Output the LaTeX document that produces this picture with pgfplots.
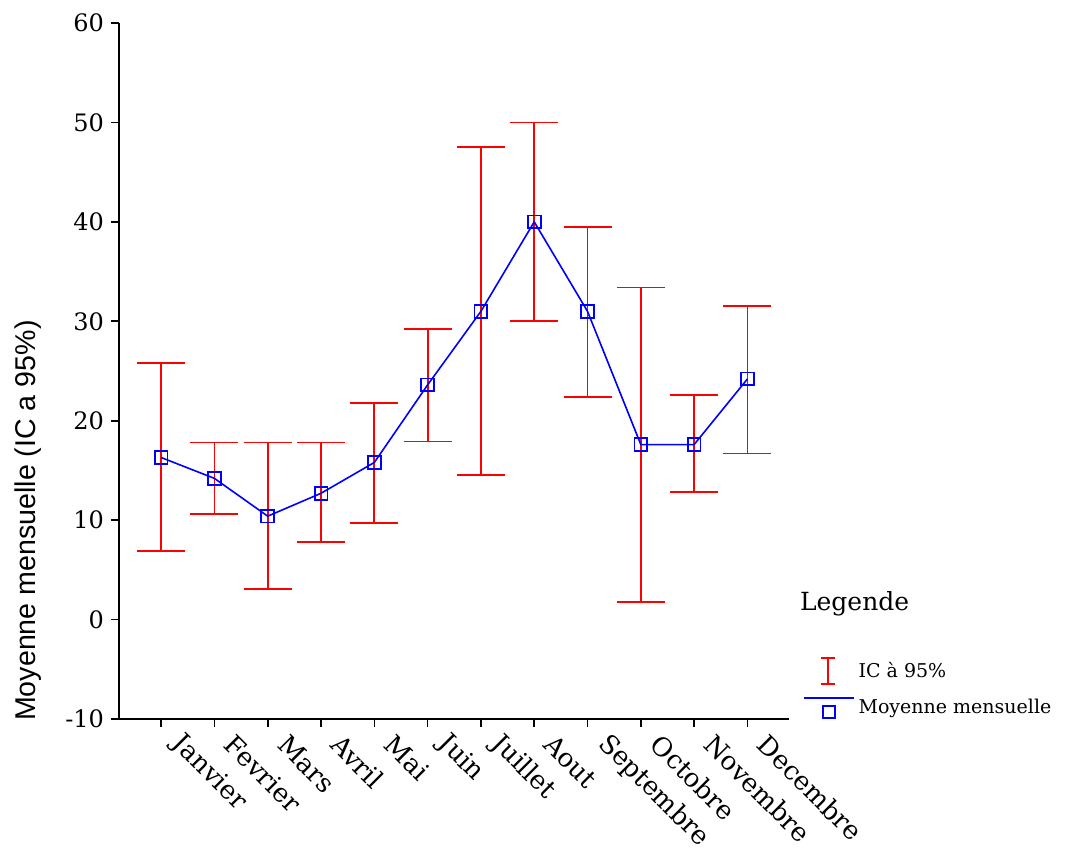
\documentclass[border=0pt]{standalone}
\usepackage{fontspec}
\setmainfont{DejaVu Serif}
\newfontfamily\labelfont{Liberation Sans}
\usepackage{pgfplots}
\usepackage{pgfplotstable}
\pgfplotsset{compat=1.18}

% monthly mean with 95% CI bounds
\pgfplotstableread{
x  mean  lo    hi
1  16.3  6.9   25.8
2  14.2  10.6  17.8
3  10.4  3.1   17.8
4  12.7  7.8   17.8
5  15.8  9.7   21.8
6  23.6  17.9  29.2
7  31.0  14.5  47.5
8  40.0  30.0  50.0
9  31.0  22.4  39.5
10 17.6  1.8   33.4
11 17.6  12.8  22.6
12 24.2  16.7  31.5
}\data

\begin{document}
\begin{tikzpicture}
\begin{axis}[
    scale only axis,
    width=335pt, height=348pt,
    xmin=0.21, xmax=12.78,
    ymin=-10, ymax=60,
    axis x line=bottom, axis y line=left,
    axis line style={-, line width=0.9pt},
    tick style={black, line width=0.8pt},
    tick align=outside,
    major tick length=4pt,
    xtick={1,...,12},
    xticklabels={Janvier,Fevrier,Mars,Avril,Mai,Juin,Juillet,Aout,Septembre,Octobre,Novembre,Decembre},
    xticklabel style={rotate=-45, anchor=west, inner sep=0pt, xshift=9.7pt, yshift=0.7pt,
        font=\fontsize{13}{15}\selectfont},
    ytick={-10,0,...,60},
    yticklabel style={font=\fontsize{12}{14}\selectfont},
    /pgf/number format/assume math mode=true,
    ylabel={\labelfont Moyenne mensuelle (IC a 95\%)},
    ylabel style={at={(ticklabel cs:0)}, anchor=south west,
        font=\fontsize{14.3}{16}\selectfont, yshift=5pt, xshift=-4.5pt},
    clip=false,
    legend style={at={(rel axis cs:1.011,0.095)}, anchor=north west, draw=none,
        font=\fontsize{9.5}{11}\selectfont, row sep=5pt, fill=none},
    legend cell align=left,
]
% CI: vertical lines from lo to hi, then caps
\addplot[draw=red, line width=0.9pt, -,
    quiver={u=0, v=\thisrow{hi}-\thisrow{lo}},
    legend image code/.code={
        \draw[draw=red, line width=0.9pt] (12pt,-6.5pt)--(12pt,6.5pt)
            (8.5pt,-6.5pt)--(15.5pt,-6.5pt) (8.5pt,6.5pt)--(15.5pt,6.5pt);}]
    table[x=x, y=lo] {\data};
\addlegendentry{IC à 95\%}
\addplot[draw=red, line width=0.9pt, -, forget plot, quiver={u=0.9, v=0}]
    table[x expr=\thisrow{x}-0.45, y=hi] {\data};
\addplot[draw=red, line width=0.9pt, -, forget plot, quiver={u=0.9, v=0}]
    table[x expr=\thisrow{x}-0.45, y=lo] {\data};
\addplot[draw=blue, line width=0.8pt, mark=square, mark size=3.2pt,
    mark options={draw=blue, line width=0.9pt},
    legend image code/.code={
        \draw[draw=blue, line width=0.9pt] (0pt,5pt)--(25pt,5pt);
        \draw[draw=blue, line width=0.9pt] (9.5pt,-5pt) rectangle (15.5pt,1pt);}]
    table[x=x, y=mean] {\data};
\addlegendentry{Moyenne mensuelle}
\node[anchor=base west, font=\fontsize{12.5}{14}\selectfont]
    at (rel axis cs:1.006,0.156) {Legende};
\coordinate (ll) at (rel axis cs:0,0);
\coordinate (ur) at (rel axis cs:1,1);
\end{axis}
\pgfresetboundingbox
\path[use as bounding box] (ll) ++(-59.5pt,-65pt) rectangle (ur) ++(138.5pt,11.5pt);
\end{tikzpicture}
\end{document}
